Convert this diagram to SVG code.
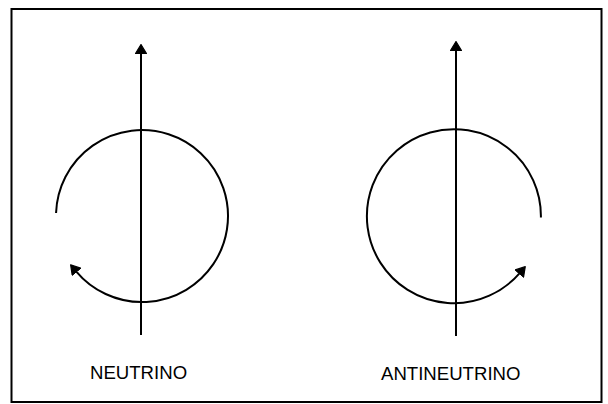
<svg xmlns="http://www.w3.org/2000/svg" width="608" height="404" viewBox="0 0 608 404">
  <style>
    .ln { fill: none; stroke: #000; stroke-width: 2; }
    .lbl { font-family: "Liberation Sans", Arial, sans-serif; font-size: 18.6px; fill: #000; }
  </style>
  <defs>
    <marker id="ah" viewBox="0 0 10 12" refX="1" refY="6" markerWidth="10" markerHeight="12" markerUnits="userSpaceOnUse" orient="auto">
      <path d="M0.5,0.5 L9.5,6 L0.5,11.5 z" fill="#000" stroke="#000" stroke-width="1.2" stroke-linejoin="round"/>
    </marker>
  </defs>
  <rect x="11.5" y="9" width="590" height="393" fill="#fff" stroke="#000" stroke-width="2"/>
  <g id="neutrino">
    <path class="ln" d="M56.05,213 A86,86 0 1 1 76.1,271.3" marker-end="url(#ah)"/>
    <text class="lbl" x="90" y="379">NEUTRINO</text>
  </g>
  <g id="antineutrino">
    <path class="ln" d="M540.9,217.5 A87,87 0 1 0 519.7,273.1" marker-end="url(#ah)"/>
    <text class="lbl" x="381" y="380">ANTINEUTRINO</text>
  </g>
  <g id="connectors">
    <line class="ln" x1="141" y1="335" x2="141" y2="53" marker-end="url(#ah)"/>
    <line class="ln" x1="456" y1="336" x2="456" y2="50" marker-end="url(#ah)"/>
  </g>
</svg>
